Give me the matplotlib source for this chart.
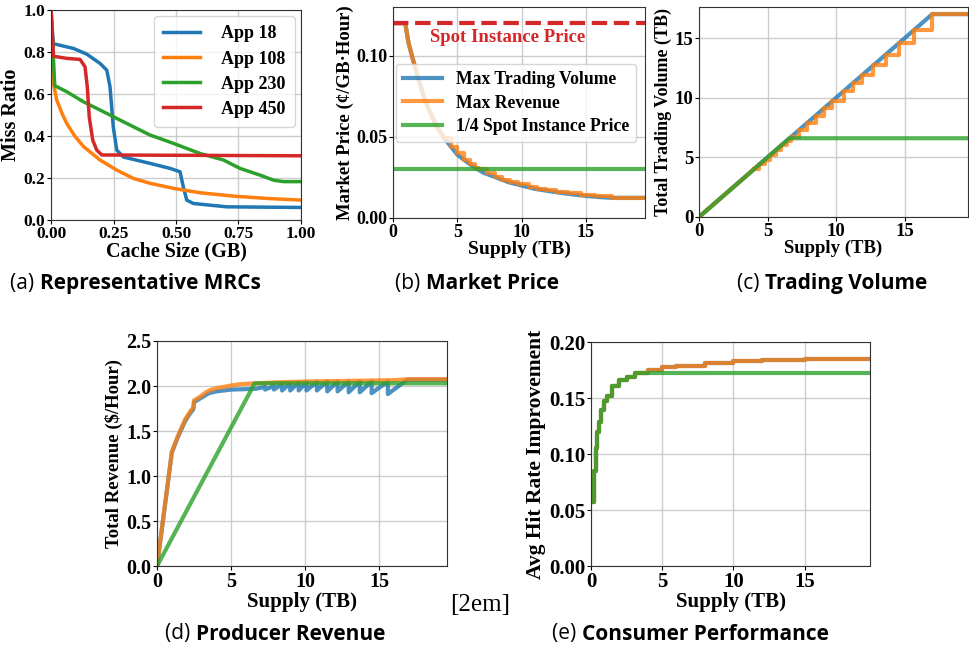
#!/usr/bin/env python3
import matplotlib
matplotlib.use("Agg")
import matplotlib.pyplot as plt

# (a) miss ratio curves
cache_gb_18 = [0.0, 0.009, 0.09, 0.143, 0.196, 0.223, 0.236, 0.249, 0.263, 0.29, 0.396, 0.476, 0.516, 0.529, 0.543, 0.569, 0.703, 1.0]
miss_18 = [1.0, 0.84, 0.817, 0.79, 0.746, 0.714, 0.635, 0.444, 0.333, 0.30, 0.27, 0.246, 0.23, 0.159, 0.095, 0.079, 0.063, 0.06]
cache_gb_108 = [0.0, 0.008, 0.023, 0.045, 0.063, 0.095, 0.13, 0.196, 0.263, 0.33, 0.396, 0.49, 0.596, 0.73, 0.863, 1.0]
miss_108 = [1.0, 0.66, 0.571, 0.505, 0.46, 0.40, 0.35, 0.286, 0.238, 0.198, 0.175, 0.151, 0.13, 0.114, 0.103, 0.095]
cache_gb_230 = [0.0, 0.015, 0.063, 0.13, 0.196, 0.263, 0.33, 0.396, 0.49, 0.596, 0.69, 0.756, 0.836, 0.89, 0.93, 1.0]
miss_230 = [1.0, 0.64, 0.611, 0.563, 0.524, 0.484, 0.444, 0.405, 0.365, 0.317, 0.286, 0.246, 0.214, 0.19, 0.183, 0.183]
cache_gb_450 = [0.0, 0.01, 0.063, 0.116, 0.136, 0.145, 0.153, 0.167, 0.183, 0.203, 1.0]
miss_450 = [1.0, 0.78, 0.77, 0.765, 0.73, 0.635, 0.49, 0.38, 0.333, 0.31, 0.306]
app_names = ["App 18", "App 108", "App 230", "App 450"]

# (b) market price
spot_price = 0.12
price_x = [0, 0.95, 1.2, 1.5, 2.0, 2.5, 3.0, 3.5, 4.0, 5.0, 6.0, 7.0, 8.0, 9.0, 10.0, 11.0, 12.0, 13.0, 14.0, 15.0, 16.0, 17.0, 19.6]
price_vol = [0.12, 0.12, 0.108, 0.099, 0.085, 0.072, 0.063, 0.055, 0.049, 0.039, 0.033, 0.028, 0.025, 0.022, 0.020, 0.018, 0.0167, 0.0155, 0.0145, 0.0136, 0.0129, 0.0124, 0.0124]
price_rev_steps = [4.0, 4.5, 5.0, 5.5, 6.0, 6.4, 6.7, 7.3, 7.9, 8.5, 9.1, 9.7, 10.6, 11.2, 11.9, 12.7, 13.6, 14.6, 15.7, 17.0, 19.6]
price_rev = [0.049, 0.044, 0.040, 0.036, 0.033, 0.031, 0.030, 0.0275, 0.0255, 0.0237, 0.0222, 0.0208, 0.0192, 0.0181, 0.0171, 0.0161, 0.0151, 0.0142, 0.0134, 0.0124, 0.0124]

# (c) trading volume
vol_max_x = [0, 17.0, 19.6]
vol_max = [0, 17.0, 17.0]
vol_rev_steps = [4.0, 4.4, 4.8, 5.2, 5.6, 6.0, 6.4, 6.7, 7.3, 7.9, 8.5, 9.1, 9.7, 10.6, 11.2, 11.9, 12.7, 13.6, 14.6, 15.7, 17.0, 19.6]
vol_rev = [4.0, 4.4, 4.8, 5.2, 5.6, 6.0, 6.4, 6.7, 7.3, 7.9, 8.5, 9.1, 9.7, 10.6, 11.2, 11.9, 12.7, 13.6, 14.6, 15.7, 17.0, 17.0]
vol_quarter_x = [0, 6.6, 19.6]
vol_quarter = [0, 6.6, 6.6]

# (d) producer revenue
rev_vol_x = [0, 1.0, 1.4, 1.9, 2.25, 2.45, 2.5, 2.9, 3.5, 4.0, 5.0, 6.0, 6.7, 7.3, 7.3, 7.9, 7.9, 8.45, 8.45, 9.0, 9.0, 9.57, 9.57,
             10.1, 10.1, 10.8, 10.8, 11.5, 11.5, 12.2, 12.2, 12.95, 12.95, 13.7, 13.7, 14.5, 14.5, 15.6, 15.6, 16.9, 19.6]
rev_vol = [0, 1.26, 1.43, 1.61, 1.70, 1.74, 1.82, 1.86, 1.92, 1.94, 1.96, 1.965, 1.97, 1.99, 1.96, 2.0, 1.96, 2.02, 1.95, 2.03, 1.95, 2.04, 1.95,
           2.04, 1.95, 2.045, 1.95, 2.05, 1.94, 2.05, 1.94, 2.05, 1.93, 2.05, 1.93, 2.05, 1.92, 2.05, 1.91, 2.07, 2.07]
rev_max_x = [0, 1.0, 1.4, 1.9, 2.25, 2.45, 2.5, 2.9, 3.3, 3.6, 4.0, 4.5, 5.0, 5.6, 6.7, 8, 10, 12, 14, 16, 17, 19.6]
rev_max = [0, 1.27, 1.44, 1.63, 1.72, 1.76, 1.84, 1.88, 1.93, 1.955, 1.975, 1.99, 2.005, 2.02, 2.03, 2.04, 2.05, 2.055, 2.06, 2.065, 2.075, 2.075]
rev_quarter_x = [0, 6.6, 19.6]
rev_quarter = [0, 2.03, 2.03]

# (e) consumer performance
hit_x = [0.1, 0.2, 0.35, 0.45, 0.55, 0.7, 0.9, 1.1, 1.5, 2.0, 2.5, 3.1, 4, 5, 6, 8, 10, 12, 15, 19.6]
hit_vol = [0.057, 0.085, 0.105, 0.12, 0.129, 0.139, 0.147, 0.152, 0.161, 0.166, 0.169, 0.172, 0.175, 0.1775, 0.179, 0.181, 0.183, 0.184, 0.185, 0.185]
hit_rev = [0.057, 0.085, 0.105, 0.12, 0.129, 0.139, 0.147, 0.152, 0.161, 0.166, 0.169, 0.172, 0.175, 0.1775, 0.179, 0.181, 0.1828, 0.184, 0.185, 0.185]
hit_quarter_x = [0.1, 0.2, 0.35, 0.45, 0.55, 0.7, 0.9, 1.1, 1.5, 2.0, 2.5, 3.1, 19.6]
hit_quarter = [0.057, 0.085, 0.105, 0.12, 0.129, 0.139, 0.147, 0.152, 0.161, 0.166, 0.169, 0.172, 0.172]

BLUE, ORANGE, GREEN, RED = "#1f77b4", "#ff7f0e", "#2ca02c", "#d62728"
SERIF = "Liberation Serif"
CAP = "Open Sans"
LW = 3
AL = 0.8

plt.rcParams["font.family"] = SERIF
plt.rcParams["font.weight"] = "bold"
plt.rcParams["axes.labelweight"] = "bold"

fig = plt.figure(figsize=(9.7, 6.53), dpi=100)


def style(ax, xlabel, ylabel, tick=13, xl=14, yl=14):
    ax.grid(True, color="#cccccc", linewidth=1)
    ax.set_axisbelow(True)
    ax.set_xlabel(xlabel, fontsize=xl, labelpad=0)
    ax.set_ylabel(ylabel, fontsize=yl, labelpad=2)
    ax.tick_params(labelsize=tick, pad=1, length=3)
    for s in ax.spines.values():
        s.set_color("#333333")


# (a)
ax = fig.add_axes([0.0526, 0.663, 0.2577, 0.3216])
ax.plot(cache_gb_18, miss_18, color=BLUE, lw=2.5, label=app_names[0])
ax.plot(cache_gb_108, miss_108, color=ORANGE, lw=2.5, label=app_names[1])
ax.plot(cache_gb_230, miss_230, color=GREEN, lw=2.5, label=app_names[2])
ax.plot(cache_gb_450, miss_450, color=RED, lw=2.5, label=app_names[3])
ax.set_xlim(0, 1)
ax.set_ylim(0, 1)
ax.set_xticks([0, 0.25, 0.5, 0.75, 1.0])
ax.set_xticklabels(["0.00", "0.25", "0.50", "0.75", "1.00"])
ax.set_yticks([0, 0.2, 0.4, 0.6, 0.8, 1.0])
style(ax, "Cache Size (GB)", "Miss Ratio", tick=12.5, xl=14.5, yl=14.5)
ax.legend(loc="upper right", fontsize=13, handlelength=2.0, borderpad=0.5, labelspacing=0.45,
          handletextpad=1.2, borderaxespad=0.35)

# (b)
ax = fig.add_axes([0.4052, 0.6662, 0.2598, 0.3231])
ax.plot(price_x, price_vol, color=BLUE, lw=LW, alpha=AL, label="Max Trading Volume")
ax.plot(price_x[:9], price_vol[:9], color=ORANGE, lw=LW, alpha=AL)
ax.plot(price_rev_steps, price_rev, color=ORANGE, lw=LW, alpha=AL, drawstyle="steps-post", label="Max Revenue")
ax.axhline(spot_price / 4, color=GREEN, lw=LW, alpha=AL, label="1/4 Spot Instance Price")
ax.axhline(spot_price, color=RED, lw=LW, ls="--")
ax.text(8.9, 0.111, "Spot Instance Price", color=RED, ha="center", va="center", fontsize=13.5)
ax.set_xlim(0, 19.6)
ax.set_ylim(0, 0.13)
ax.set_xticks([0, 5, 10, 15])
ax.set_yticks([0, 0.05, 0.10])
ax.set_yticklabels(["0.00", "0.05", "0.10"])
style(ax, "Supply (TB)", "Market Price (\u00a2/GB\u00b7Hour)", tick=13, xl=14, yl=13.5)
ax.legend(loc="upper right", bbox_to_anchor=(1.0, 0.77), fontsize=12.7, handlelength=2.2,
          labelspacing=0.35, borderpad=0.4)

# (c)
ax = fig.add_axes([0.7206, 0.6677, 0.2773, 0.3216])
ax.plot(vol_max_x, vol_max, color=BLUE, lw=LW, alpha=AL)
ax.plot([0, vol_rev_steps[0]], [0, vol_rev[0]], color=ORANGE, lw=LW, alpha=AL)
ax.plot(vol_rev_steps, vol_rev, color=ORANGE, lw=LW, alpha=AL, drawstyle="steps-post")
ax.plot(vol_quarter_x, vol_quarter, color=GREEN, lw=LW, alpha=AL)
ax.set_xlim(0, 19.6)
ax.set_ylim(0, 17.6)
ax.set_xticks([0, 5, 10, 15])
ax.set_yticks([0, 5, 10, 15])
style(ax, "Supply (TB)", "Total Trading Volume (TB)", tick=13.5, xl=13.5, yl=13)

# (d)
ax = fig.add_axes([0.1619, 0.1332, 0.299, 0.3446])
ax.plot(rev_vol_x, rev_vol, color=BLUE, lw=LW, alpha=AL)
ax.plot(rev_max_x, rev_max, color=ORANGE, lw=LW, alpha=AL)
ax.plot(rev_quarter_x, rev_quarter, color=GREEN, lw=LW, alpha=AL)
ax.set_xlim(0, 19.6)
ax.set_ylim(0, 2.5)
ax.set_xticks([0, 5, 10, 15])
ax.set_yticks([0, 0.5, 1.0, 1.5, 2.0, 2.5])
style(ax, "Supply (TB)", "Total Revenue ($/Hour)", tick=14.5, xl=15, yl=13.5)

# (e)
ax = fig.add_axes([0.6093, 0.1332, 0.2876, 0.343])
ax.plot(hit_x, hit_vol, color=BLUE, lw=LW, alpha=AL, drawstyle="steps-post")
ax.plot(hit_x, hit_rev, color=ORANGE, lw=LW, alpha=AL, drawstyle="steps-post")
ax.plot(hit_quarter_x, hit_quarter, color=GREEN, lw=LW, alpha=AL, drawstyle="steps-post")
ax.set_xlim(0, 19.6)
ax.set_ylim(0, 0.2)
ax.set_xticks([0, 5, 10, 15])
ax.set_yticks([0, 0.05, 0.10, 0.15, 0.20])
ax.set_yticklabels(["0.00", "0.05", "0.10", "0.15", "0.20"])
style(ax, "Supply (TB)", "Avg Hit Rate Improvement", tick=15, xl=15, yl=15.5)

# sub-captions: regular letter, bold title
captions = [
    (10, 284, "(a)", "Representative MRCs"),
    (395, 284, "(b)", "Market Price"),
    (737, 284, "(c)", "Trading Volume"),
    (165, 634, "(d)", "Producer Revenue"),
    (552, 634, "(e)", "Consumer Performance"),
]
for px, py, tag, title in captions:
    t = fig.text(px / 970, 1 - py / 653, tag + " ", family=CAP, fontweight="normal",
                 fontsize=15, va="center", ha="left")
    ax.annotate(title, xy=(1, 0.5), xycoords=t, va="center", ha="left",
                family=CAP, fontweight="bold", fontsize=15, annotation_clip=False)

fig.text(480 / 970, 1 - 605 / 653, "[2em]", family=SERIF, fontweight="normal", fontsize=18,
         ha="center", va="center")

fig.savefig("out.png", dpi=100)
